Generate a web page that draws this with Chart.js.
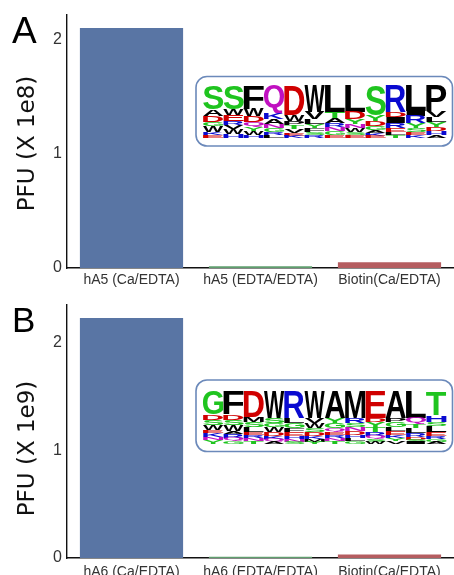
<!DOCTYPE html>
<html>
<head>
<meta charset="utf-8">
<script src="https://cdn.jsdelivr.net/npm/chart.js@4.4.1/dist/chart.umd.min.js"></script>
<style>
  html, body { margin: 0; padding: 0; background: #fff; }
  body { width: 454px; height: 575px; overflow: hidden; position: relative; }
  canvas { position: absolute; left: 0; display: block; }
  #panel-a { top: 0; }
  #panel-b { top: 287px; }
</style>
</head>
<body>
<canvas id="panel-a" width="454" height="287"></canvas>
<canvas id="panel-b" width="454" height="288"></canvas>
<script>
// Panel A data (PFU x 1e8)
const categoriesA = ["hA5 (Ca/EDTA)", "hA5 (EDTA/EDTA)", "Biotin(Ca/EDTA)"]
const valuesA = [2.105, 0.015, 0.05]
const yMaxA = 2.22

// Panel B data (PFU x 1e9)
const categoriesB = ["hA6 (Ca/EDTA)", "hA6 (EDTA/EDTA)", "Biotin(Ca/EDTA)"]
const valuesB = [2.233, 0.012, 0.032]
const yMaxB = 2.353

const yTicks = [0, 1, 2]
const barColors = ["#5975a4", "#5f9e6e", "#b55d60"]

// Sequence logo insets: box in data units, then letter stacks (top to bottom)
const logoBoxA = { x: [0.5, 2.5], y: [1.07, 1.68] }
const logoStacksA = [
  [["S", 24], ["A", 7], ["D", 6], ["G", 4], ["W", 6], ["K", 3], ["E", 3]],
  [["S", 24], ["W", 6], ["E", 6], ["R", 4], ["V", 4], ["W", 5], ["H", 4]],
  [["F", 24], ["W", 7], ["D", 6], ["Q", 5], ["Y", 4], ["W", 4], ["H", 3]],
  [["Q", 28], ["K", 6], ["A", 5], ["N", 4], ["G", 4], ["R", 3], ["L", 3]],
  [["D", 30], ["W", 6], ["P", 4], ["T", 4], ["V", 4], ["E", 3], ["K", 2]],
  [["W", 27], ["V", 7], ["L", 5], ["Y", 4], ["F", 4], ["S", 3], ["R", 3]],
  [["L", 27], ["T", 6], ["A", 5], ["R", 4], ["N", 4], ["G", 4], ["E", 3]],
  [["L", 27], ["D", 7], ["Y", 5], ["N", 4], ["W", 4], ["S", 3], ["E", 3]],
  [["S", 30], ["Y", 6], ["D", 5], ["G", 4], ["A", 3], ["K", 3], ["E", 2]],
  [["R", 27], ["D", 5], ["I", 6], ["R", 5], ["E", 4], ["L", 3], ["T", 3]],
  [["L", 26], ["I", 5], ["R", 7], ["Y", 5], ["S", 4], ["E", 3], ["K", 3]],
  [["P", 26], ["V", 6], ["L", 5], ["Y", 5], ["D", 4], ["H", 4], ["A", 3]],
]

const logoBoxB = { x: [0.5, 2.5], y: [0.99, 1.656] }
const logoStacksB = [
  [["G", 24], ["D", 5], ["S", 5], ["W", 5], ["E", 3], ["K", 4], ["N", 3], ["Y", 4]],
  [["F", 24], ["D", 5], ["S", 5], ["W", 6], ["A", 3], ["R", 4], ["Q", 3], ["G", 3]],
  [["D", 26], ["M", 5], ["S", 5], ["L", 5], ["E", 3], ["R", 3], ["N", 3], ["T", 3]],
  [["W", 27], ["S", 5], ["G", 4], ["W", 5], ["D", 4], ["K", 3], ["Q", 3], ["A", 2]],
  [["R", 27], ["L", 5], ["G", 5], ["F", 4], ["E", 4], ["H", 3], ["N", 3], ["S", 2]],
  [["W", 27], ["V", 5], ["W", 5], ["S", 4], ["D", 4], ["K", 3], ["M", 3], ["Y", 2]],
  [["A", 27], ["Y", 5], ["G", 5], ["Q", 4], ["E", 3], ["R", 3], ["N", 3], ["T", 3]],
  [["M", 27], ["R", 5], ["S", 4], ["N", 4], ["D", 4], ["H", 3], ["L", 3], ["G", 3]],
  [["E", 27], ["D", 4], ["Y", 5], ["T", 5], ["R", 4], ["Q", 3], ["S", 3], ["W", 2]],
  [["A", 27], ["P", 4], ["G", 5], ["L", 4], ["E", 4], ["K", 3], ["Y", 3], ["V", 3]],
  [["L", 27], ["Q", 6], ["T", 4], ["L", 5], ["R", 4], ["D", 3], ["S", 2], ["I", 2]],
  [["T", 24], ["H", 7], ["S", 4], ["L", 6], ["E", 4], ["R", 3], ["G", 3], ["A", 2]],
]

// weblogo "chemistry" colour scheme
function letterColor(ch) {
  if ("GSTYC".includes(ch)) return "#1fc41f"
  if ("NQ".includes(ch)) return "#c010c0"
  if ("KRH".includes(ch)) return "#0a0ad0"
  if ("DE".includes(ch)) return "#d00000"
  return "#000000"
}

// stretch one glyph to fill a rectangle
function drawGlyph(ctx, ch, x, y, w, h) {
  if (h < 0.5) return
  ctx.save()
  ctx.font = 'bold 100px "Liberation Sans"'
  ctx.textAlign = "left"
  ctx.textBaseline = "alphabetic"
  const m = ctx.measureText(ch)
  const gw = m.actualBoundingBoxLeft + m.actualBoundingBoxRight
  const gh = m.actualBoundingBoxAscent + m.actualBoundingBoxDescent
  ctx.translate(x, y)
  ctx.scale(w / gw, h / gh)
  ctx.fillStyle = letterColor(ch)
  ctx.fillText(ch, m.actualBoundingBoxLeft, m.actualBoundingBoxAscent)
  ctx.restore()
}

const logoPlugin = {
  id: "logoInset",
  afterDatasetsDraw(chart, args, opts) {
    if (!opts || !opts.stacks) return
    const { ctx, scales: { x, y } } = chart
    const left = x.getPixelForValue(opts.box.x[0])
    const right = x.getPixelForValue(opts.box.x[1]) - 1.5
    const top = y.getPixelForValue(opts.box.y[1])
    const bottom = y.getPixelForValue(opts.box.y[0])

    ctx.save()
    ctx.beginPath()
    ctx.roundRect(left, top, right - left, bottom - top, 11)
    ctx.fillStyle = "#ffffff"
    ctx.fill()
    ctx.lineWidth = 1.6
    ctx.strokeStyle = "#6b89ba"
    ctx.stroke()
    ctx.restore()

    const innerL = left + opts.padLeft
    const innerR = right - opts.padRight
    const innerT = top + opts.padTop
    const innerB = bottom - opts.padBottom
    const colW = (innerR - innerL) / opts.stacks.length
    const maxSum = Math.max(...opts.stacks.map((col) => col.reduce((s, c) => s + c[1], 0)))
    const unit = (innerB - innerT) / maxSum

    opts.stacks.forEach((col, i) => {
      const sum = col.reduce((s, c) => s + c[1], 0)
      let yCur = innerB - sum * unit
      col.forEach(([ch, h]) => {
        drawGlyph(ctx, ch, innerL + i * colW, yCur, colW, h * unit)
        yCur += h * unit
      })
    })
  },
}

const decorPlugin = {
  id: "panelDecor",
  afterDraw(chart, args, opts) {
    if (!opts || !opts.letter) return
    const { ctx, chartArea } = chart
    ctx.save()
    ctx.fillStyle = "#000"
    ctx.textAlign = "left"
    ctx.textBaseline = "alphabetic"
    ctx.font = `${opts.letterSize}px "Liberation Sans"`
    ctx.fillText(opts.letter, opts.letterX, opts.letterY)

    ctx.translate(opts.titleX, (chartArea.top + chartArea.bottom) / 2 + opts.titleShift)
    ctx.rotate(-Math.PI / 2)
    ctx.textAlign = "center"
    ctx.textBaseline = "middle"
    ctx.font = '23px "DejaVu Sans"'
    ctx.fillStyle = "#111"
    ctx.fillText(opts.title, 0, 0)
    ctx.restore()
  },
}

function makePanel(canvas, cfg) {
  const h = canvas.height
  return new Chart(canvas, {
    type: "bar",
    data: {
      labels: cfg.categories,
      datasets: [
        {
          data: cfg.values,
          backgroundColor: barColors,
          borderWidth: 0,
          barPercentage: 0.8,
          categoryPercentage: 1,
        },
      ],
    },
    plugins: [logoPlugin, decorPlugin],
    options: {
      responsive: false,
      animation: false,
      layout: { padding: { top: cfg.top, right: 0, bottom: 0, left: 0 } },
      plugins: {
        legend: { display: false },
        tooltip: { enabled: false },
        logoInset: {
          box: cfg.logoBox,
          stacks: cfg.logoStacks,
          padLeft: 7,
          padRight: 6,
          padTop: cfg.logoPadTop,
          padBottom: 8,
        },
        panelDecor: {
          letter: cfg.letter,
          letterSize: cfg.letterSize,
          letterX: 12,
          letterY: cfg.letterY,
          title: cfg.title,
          titleX: 28,
          titleShift: cfg.titleShift,
        },
      },
      scales: {
        x: {
          offset: true,
          grid: { display: false, drawTicks: false },
          border: { display: true, color: "#111", width: 1.4 },
          ticks: {
            color: "#333",
            font: { family: "Liberation Sans", size: 14 },
            padding: cfg.xPad,
            autoSkip: false,
            maxRotation: 0,
          },
          afterFit: (scale) => {
            scale.height = h - cfg.bottom
          },
        },
        y: {
          min: 0,
          max: cfg.yMax,
          grid: { display: false, drawTicks: false },
          border: { display: true, color: "#111", width: 1.4 },
          ticks: {
            color: "#333",
            font: { family: "Liberation Sans", size: 16 },
            padding: 5,
          },
          afterBuildTicks: (scale) => {
            scale.ticks = yTicks.map((v) => ({ value: v }))
          },
          afterFit: (scale) => {
            scale.width = 67
          },
        },
      },
    },
  })
}

makePanel(document.getElementById("panel-a"), {
  categories: categoriesA,
  values: valuesA,
  yMax: yMaxA,
  top: 15,
  bottom: 268,
  xPad: 4,
  logoBox: logoBoxA,
  logoStacks: logoStacksA,
  logoPadTop: 9,
  letter: "A",
  letterSize: 37,
  letterY: 43,
  title: "PFU (X 1e8)",
  titleShift: 2,
})

makePanel(document.getElementById("panel-b"), {
  categories: categoriesB,
  values: valuesB,
  yMax: yMaxB,
  top: 18,
  bottom: 271,
  xPad: 6,
  logoBox: logoBoxB,
  logoStacks: logoStacksB,
  logoPadTop: 11,
  letter: "B",
  letterSize: 35,
  letterY: 45,
  title: "PFU (X 1e9)",
  titleShift: 17,
})
</script>
</body>
</html>
